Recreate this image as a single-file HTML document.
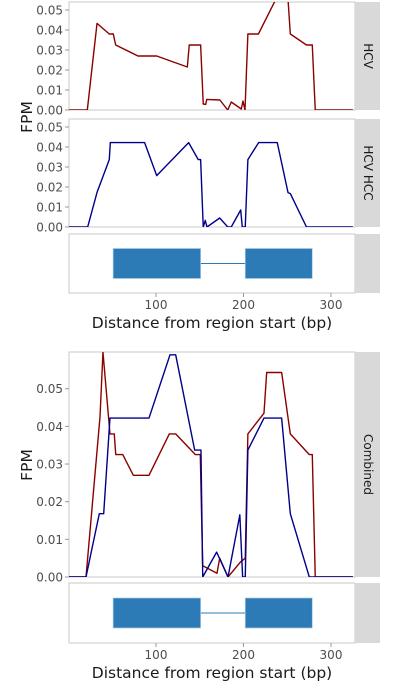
<!DOCTYPE html>
<html><head><meta charset="utf-8"><style>
html,body{margin:0;padding:0;background:#fff;width:400px;height:700px;overflow:hidden}
svg{display:block;font-family:"DejaVu Sans","Liberation Sans",sans-serif}
.tick{font-size:12px;fill:#4d4d4d}
.ttl{font-size:15.5px;fill:#1a1a1a}
</style></head><body>
<svg id="chart" width="400" height="700" viewBox="0 0 400 700" xmlns="http://www.w3.org/2000/svg"></svg>
<script>
// ---- data ----
const hcvX = [0,21.5,32.6,46.6,51.2,53.9,79.4,100.8,135.8,138,151,154,156.8,158,173,182,186,197.5,199.4,201.7,205,217,236,251,253.5,272,278.6,282,325];
const hcvY = [0,0,0.0433,0.038,0.038,0.0325,0.027,0.027,0.0215,0.0325,0.0325,0.003,0.0028,0.0053,0.005,0,0.004,0.0005,0.0045,0,0.038,0.038,0.0545,0.0545,0.038,0.0325,0.0325,0,0];
const hccX = [0,21.9,32.6,46.6,47.8,87,100.8,137.3,148.3,151,154,156.3,158.3,172.8,182,186,196.8,198.6,202,205,217.3,238.6,250.9,253.5,272,325];
const hccY = [0,0,0.0173,0.0337,0.0422,0.0422,0.0257,0.0422,0.0337,0.0337,0,0.0033,0,0.0045,0,0,0.0085,0,0,0.0337,0.0422,0.0422,0.0172,0.0167,0,0];
const combRedX = [0,20,36,39.4,47.4,52.3,54,62,74.1,92,115.2,122.5,145,150.6,152.6,153.4,169.7,172.8,182.3,196.6,202,205,223.4,226.5,243.6,253.5,275.2,278.6,282,325];
const combRedY = [0,0,0.0425,0.0597,0.038,0.038,0.0325,0.0325,0.027,0.027,0.038,0.038,0.0325,0.0325,0.011,0.003,0.001,0.005,0,0.004,0.005,0.038,0.0435,0.0543,0.0543,0.038,0.0325,0.0325,0,0];
const combBlueX = [0,20,35.2,40.2,47.4,92,116,122.5,144.2,151.4,153.4,169.3,182.3,195.8,199,202,205,223.4,243.6,253.5,275.2,325];
const combBlueY = [0,0,0.0168,0.0168,0.0422,0.0422,0.059,0.059,0.0337,0.0337,0,0.0066,0,0.0165,0,0,0.0337,0.0422,0.0422,0.0168,0,0];
const exonStart = [51,202];
const exonEnd = [151,278.6];
const xTicks = [100,200,300];
const yTicksTop = [0,0.01,0.02,0.03,0.04,0.05];
const yTickLabels = ["0.00","0.01","0.02","0.03","0.04","0.05"];

const NS="http://www.w3.org/2000/svg";
const svg=document.getElementById('chart');
const PL=69,PR=355;
function xs(v){return 68.5+v*0.875;}
function mk(tag,attrs,parent){const e=document.createElementNS(NS,tag);for(const k in attrs)e.setAttribute(k,attrs[k]);(parent||svg).appendChild(e);return e;}
let clipId=0;
function panel(top,bot,zeroY,perUnit,series,stripLabel,name){
  const g=mk('g',{});
  
  
  const bg=mk('rect',{x:PL,y:top,width:PR-PL,height:bot-top,fill:'#fff',stroke:'#c8c8c8','stroke-width':1},g);
  
  
  const ys=v=>zeroY-v*perUnit;
  yTicksTop.forEach((t,i)=>{
    const y=ys(t); if(y<top-1)return;
    mk('line',{x1:65,x2:69,y1:y,y2:y,stroke:'#9a9a9a'},g);
    const tx=mk('text',{x:63,y:y+4.5,'text-anchor':'end',class:'tick'},g);
    tx.textContent=yTickLabels[i];
    
    
  });
  const cid='c'+(clipId++);
  const cp=mk('clipPath',{id:cid},g);mk('rect',{x:PL,y:top,width:PR-PL,height:bot-top},cp);
  series.forEach(s=>{
    const d=s.x.map((v,i)=>(i?'L':'M')+xs(v).toFixed(2)+' '+ys(s.y[i]).toFixed(2)).join(' ');
    const p=mk('path',{d:d,fill:'none',stroke:s.c,'stroke-width':1.4,'stroke-linejoin':'round','clip-path':'url(#'+cid+')'},g);
    
    
  });
  const st=mk('rect',{x:PR,y:top,width:25,height:bot-top,fill:'#d9d9d9'},g);
  
  
  const cy=(top+bot)/2;
  const lt=mk('text',{x:0,y:0,transform:'translate(364,'+cy+') rotate(90)','text-anchor':'middle',style:'font-size:12px;fill:#1a1a1a'},g);
  lt.textContent=stripLabel;
  
  
}
function gene(top,bot,name){
  const g=mk('g',{});
  
  
  mk('rect',{x:PL,y:top,width:PR-PL,height:bot-top,fill:'#fff',stroke:'#c8c8c8'},g);
  mk('rect',{x:PR,y:top,width:25,height:bot-top,fill:'#d9d9d9'},g);
  const mid=(top+bot)/2;
  const intr=mk('line',{x1:xs(exonEnd[0]),x2:xs(exonStart[1]),y1:mid,y2:mid,stroke:'#2c7bb6','stroke-width':1},g);
  
  
  exonStart.forEach((s,i)=>{
    const r=mk('rect',{x:xs(s),y:mid-15,width:xs(exonEnd[i])-xs(s),height:30,fill:'#2c7bb6',stroke:'#a9cbe6','stroke-width':0.7},g);
    
    
  });
  xTicks.forEach(t=>{mk('line',{x1:xs(t),x2:xs(t),y1:bot,y2:bot+4,stroke:'#9a9a9a'},g);
    const tx=mk('text',{x:xs(t),y:bot+16,'text-anchor':'middle',class:'tick'},g);
    tx.textContent=t;
    
    });
  const xt=mk('text',{x:212,y:bot+35,'text-anchor':'middle',class:'ttl'},g);
  xt.textContent='Distance from region start (bp)';
  
  
}
function ytitle(cy){
  const t=mk('text',{x:0,y:0,transform:'translate(32,'+cy+') rotate(-90)','text-anchor':'middle',class:'ttl'});
  t.textContent='FPM';
  
  
}
panel(2,110,110,2000,[{x:hcvX,y:hcvY,c:'#8b0000',n:'hcv-line'}],'HCV','hcv-panel');
panel(119,227,227,2000,[{x:hccX,y:hccY,c:'#00008b',n:'hcv-hcc-line'}],'HCV HCC','hcv-hcc-panel');
gene(234,293,'gene-track-top');
ytitle(117);
panel(352,577,577,3766,[{x:combRedX,y:combRedY,c:'#8b0000',n:'combined-hcv-line'},{x:combBlueX,y:combBlueY,c:'#00008b',n:'combined-hcv-hcc-line'}],'Combined','combined-panel');
gene(583,643,'gene-track-bottom');
ytitle(465);
</script>
</body></html>
